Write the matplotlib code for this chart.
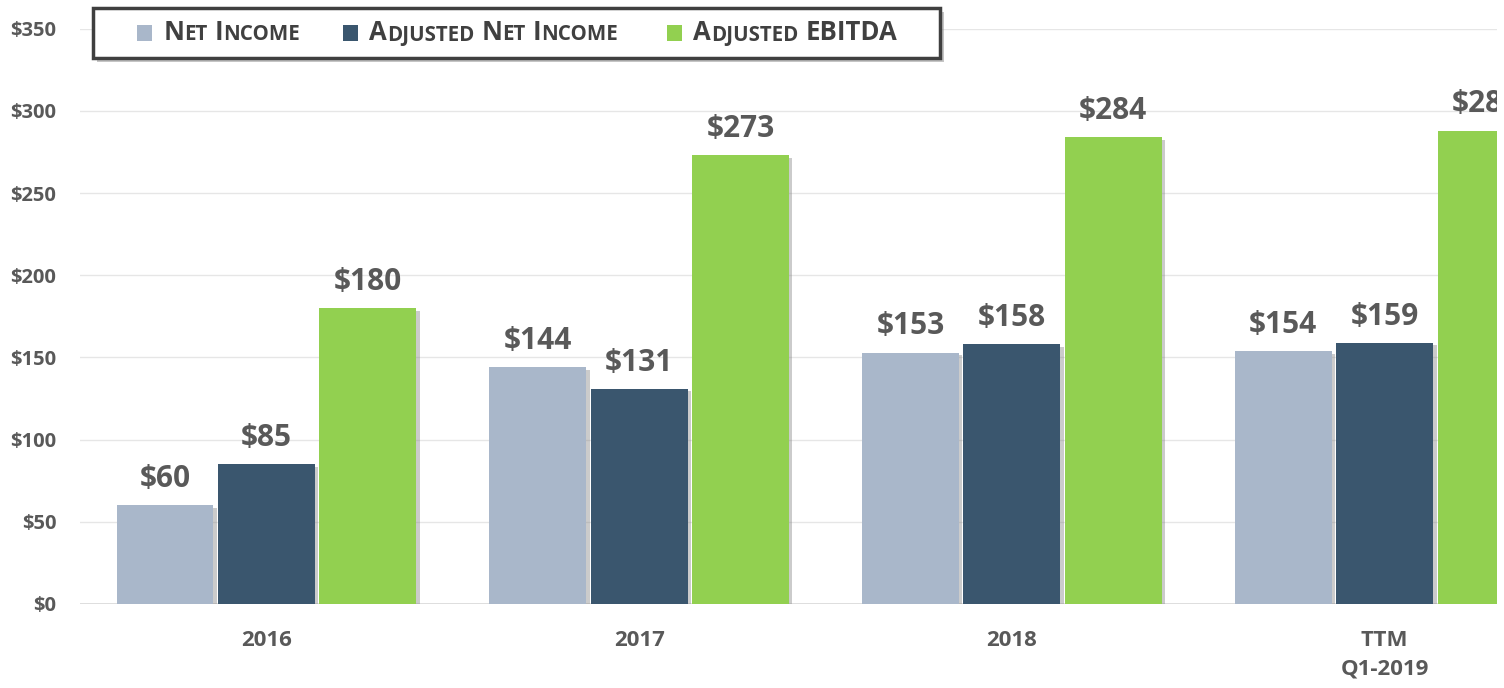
import numpy as np
import matplotlib.pyplot as plt
from matplotlib import patheffects as pe
from matplotlib.patches import Rectangle
from matplotlib.offsetbox import TextArea, HPacker, DrawingArea, AnnotationBbox

# data
categories = ["2016", "2017", "2018", "TTM\nQ1-2019"]
net_income = [60, 144, 153, 154]
adj_net_income = [85, 131, 158, 159]
adj_ebitda = [180, 273, 284, 288]
yticks = [0, 50, 100, 150, 200, 250, 300, 350]

series = [net_income, adj_net_income, adj_ebitda]
colors = ["#A9B7CA", "#3A566E", "#92D050"]
names = [[("N", "ET"), ("I", "NCOME")],
         [("A", "DJUSTED"), ("N", "ET"), ("I", "NCOME")],
         [("A", "DJUSTED"), ("EBITDA", "")]]

TXT = "#595959"
plt.rcParams['font.family'] = ['Open Sans', 'DejaVu Sans']

W, H = 1504, 688
fig = plt.figure(figsize=(W / 100, H / 100), dpi=100)
# axes deliberately runs past the right edge (the reference is cropped)
ax = fig.add_axes([80 / W, 84 / H, 1491 / W, 575.3 / H])

x = np.arange(len(categories))
bw = 0.26
step = 0.272
shadow = [pe.SimplePatchShadow(offset=(2.5, -2), shadow_rgbFace="#7F7F7F", alpha=0.4), pe.Normal()]
for i, (vals, col) in enumerate(zip(series, colors)):
    xs = x + (i - 1) * step
    bars = ax.bar(xs, vals, width=bw, color=col, zorder=3)
    for b in bars:
        b.set_path_effects(shadow)
    for xi, v in zip(xs, vals):
        ax.annotate(f"${v}", (xi, v), xytext=(0, 8), textcoords="offset points",
                    ha="center", va="bottom", fontsize=21.5, fontweight="bold",
                    color=TXT, zorder=4, annotation_clip=False)

ax.set_xlim(-0.5, 3.5)
ax.set_ylim(0, 350)
ax.set_yticks(yticks)
ax.set_yticklabels([f"${v}" for v in yticks])
ax.set_xticks(x)
ax.set_xticklabels(categories, linespacing=1.45)
ax.tick_params(axis="y", length=0, pad=17, labelsize=14.5, labelcolor=TXT)
ax.tick_params(axis="x", length=0, pad=19, labelsize=16, labelcolor=TXT)
for t in ax.get_xticklabels():
    t.set_fontweight("bold")
    t.set_va("top")
for t in ax.get_yticklabels():
    t.set_fontweight("bold")
for s in ax.spines.values():
    s.set_visible(False)
ax.yaxis.grid(True, color="#E6E6E6", lw=1, zorder=0)
ax.axhline(0, color="#D9D9D9", lw=1.2, zorder=1)
ax.set_axisbelow(True)

# the reference image ends with a thin white strip on the right
fig.patches.append(Rectangle(((W - 7) / W, 0), 7 / W, 1, transform=fig.transFigure,
                             facecolor="white", edgecolor="none", zorder=10))

# legend box with drop shadow
fig.patches.append(Rectangle((97 / W, (H - 62) / H), 847 / W, 50 / H, transform=fig.transFigure,
                             facecolor="#8C8C8C", edgecolor="none", alpha=0.5, zorder=5))
fig.patches.append(Rectangle((93 / W, (H - 58) / H), 847 / W, 50 / H, transform=fig.transFigure,
                             facecolor="white", edgecolor="#3F3F3F", lw=2.5, zorder=6))

LEG = "#404040"
big = dict(fontsize=18.5, fontweight="bold", color=LEG, family="Open Sans")
small = dict(fontsize=14.8, fontweight="bold", color=LEG, family="Open Sans")


def small_caps(words):
    parts = []
    for first, rest in words:
        kids = [TextArea(first, textprops=big)]
        if rest:
            kids.append(TextArea(rest, textprops=small))
        parts.append(HPacker(children=kids, sep=0, pad=0, align="baseline"))
    return HPacker(children=parts, sep=5, pad=0, align="baseline")


leg_x = [137, 343, 667]
for lx, col, words in zip(leg_x, colors, names):
    da = DrawingArea(11, 12, 0, 0)
    da.add_artist(Rectangle((0, 0), 11, 12, facecolor=col, edgecolor="none"))
    box = HPacker(children=[da, small_caps(words)], sep=8, pad=0, align="center")
    ab = AnnotationBbox(box, (lx, H - 33), xycoords="figure pixels", box_alignment=(0, 0.5),
                        frameon=False, pad=0)
    ab.set_zorder(7)
    fig.add_artist(ab)

fig.savefig("out.png", dpi=100)
